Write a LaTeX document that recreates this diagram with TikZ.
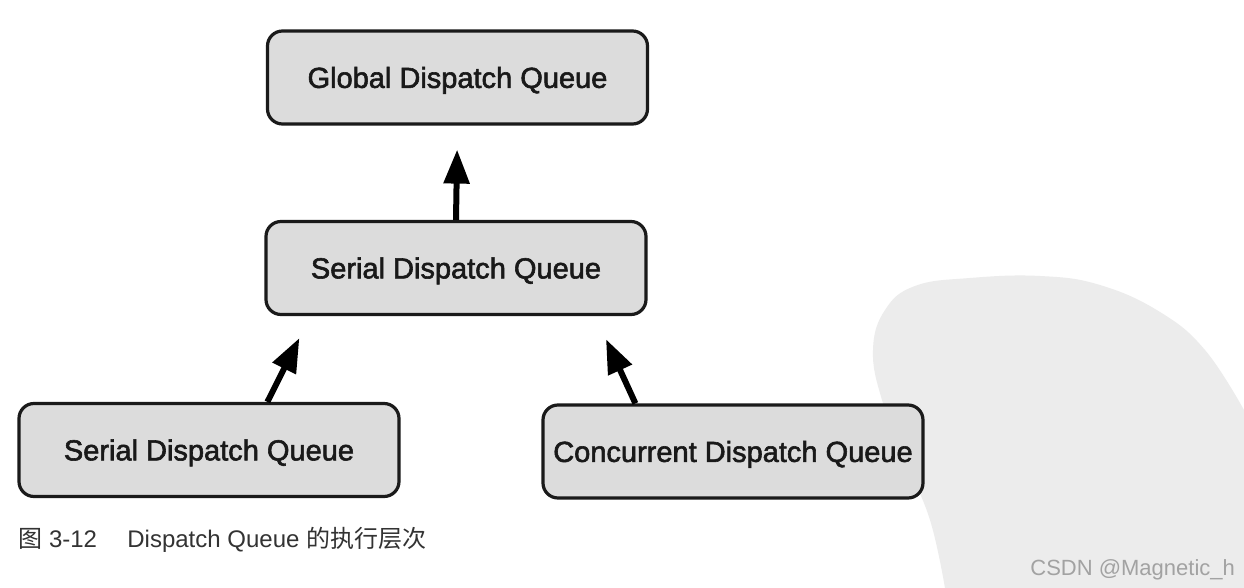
\documentclass[tikz,border=0pt]{standalone}
\usepackage{fontspec}
\setmainfont{Liberation Sans}
\newfontfamily\boxfont[FakeBold=2]{Liberation Sans}
\newfontfamily\cjk{Noto Sans CJK SC}
\usetikzlibrary{arrows.meta,calc}
\definecolor{boxfill}{HTML}{DCDCDC}
\definecolor{boxline}{HTML}{1A1A1A}
\definecolor{sealgray}{HTML}{ECECEC}
\definecolor{wmgray}{HTML}{A2A2A2}
\definecolor{captext}{HTML}{333333}
\tikzset{
  queue/.style={draw=boxline, fill=boxfill, line width=1.6pt, rounded corners=7.5pt,
    minimum width=190pt, minimum height=46.5pt, inner sep=0pt,
    text height=10.4pt, text depth=0pt, text=black!90,
    font=\boxfont\fontsize{14.5pt}{17pt}\selectfont},
  uparrow/.style={line width=3pt, -{Triangle[length=17pt,width=12.5pt]}},
  captionfont/.style={font=\fontsize{12pt}{14pt}\selectfont, text=captext, inner sep=0pt, anchor=base west},
  watermark/.style={font=\fontsize{11pt}{13pt}\selectfont, text=wmgray, inner sep=0pt, anchor=base west}
}
\begin{document}
\begin{tikzpicture}[x=0.5pt, y=-0.5pt]
\useasboundingbox[fill=white] (0,0) rectangle (1244,588);
% seal background
\fill[sealgray] (1244,588) -- (945,588) -- plot[smooth, tension=0.7] coordinates {(945,588) (930,520) (905,460) (882,400) (873,350) (885,310) (915,286) (970,278) (1040,276) (1100,285) (1160,312) (1205,350) (1244,410)} -- cycle;
% boxes
\node[queue] (G) at (457.5,77.5) {Global Dispatch Queue};
\node[queue] (M) at (456,268) {Serial Dispatch Queue};
\node[queue] (L) at (209,450) {Serial Dispatch Queue};
\node[queue] (R) at (733,451.5) {Concurrent Dispatch Queue};
% arrows
\draw[uparrow, shorten >=12pt] (M.north) -- (G.south);
\draw[uparrow, shorten >=12.3pt] ($(L.north west)+(250,0)$) -- ($(M.south west)+(46,0)$);
\draw[uparrow, shorten >=12.7pt] ($(R.north west)+(94,0)$) -- ($(M.south west)+(331,0)$);
% caption
\node[captionfont] (capnum) at (18,547) {{\cjk 图} 3-12};
\node[captionfont] (captxt) at (127,547) {Dispatch Queue {\cjk 的执行层次}};
% watermark
\node[watermark] (wm) at (1030,575) {CSDN @Magnetic\_h};
\end{tikzpicture}
\end{document}
